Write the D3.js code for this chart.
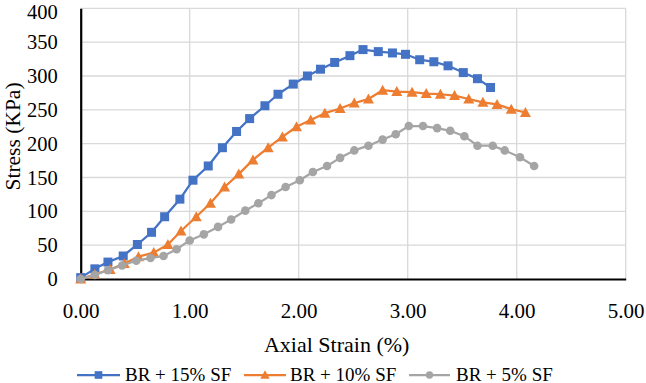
<!DOCTYPE html>
<html><head><meta charset="utf-8">
<script src="https://cdn.jsdelivr.net/npm/d3@7"></script>
<style>body{margin:0;background:#fff}svg{display:block}text{font-family:"Liberation Serif",serif;fill:#000}</style>
</head><body>
<svg id="c" width="646" height="383"></svg>
<script>
const xTicks = [0, 1, 2, 3, 4, 5];
const yTicks = [0, 50, 100, 150, 200, 250, 300, 350, 400];
const seriesNames = ["BR + 15% SF", "BR + 10% SF", "BR + 5% SF"];
const seriesColors = ["#4472C4", "#ED7D31", "#A5A5A5"];

const strain15 = [0, 0.13, 0.25, 0.39, 0.52, 0.65, 0.77, 0.91, 1.03, 1.17, 1.30, 1.43, 1.55, 1.69, 1.81, 1.95, 2.08, 2.20, 2.33, 2.47, 2.59, 2.73, 2.86, 2.98, 3.11, 3.24, 3.37, 3.51, 3.64, 3.76];
const stress15 = [2, 15, 25, 34, 51, 69, 92, 118, 146, 167, 194, 218, 237, 256, 273, 288, 300, 310, 320, 330, 339, 336, 334, 332, 324, 321, 315, 305, 296, 283];

const strain10 = [0, 0.13, 0.27, 0.40, 0.53, 0.67, 0.80, 0.92, 1.06, 1.19, 1.32, 1.45, 1.58, 1.72, 1.85, 1.98, 2.11, 2.24, 2.38, 2.51, 2.64, 2.77, 2.90, 3.04, 3.17, 3.30, 3.43, 3.56, 3.69, 3.82, 3.95, 4.08];
const stress10 = [0, 7, 14, 23, 33, 39, 51, 71, 92, 112, 136, 155, 176, 194, 210, 225, 235, 245, 252, 260, 266, 279, 277, 276, 274, 273, 271, 266, 261, 258, 251, 246];

const strain5 = [0, 0.13, 0.25, 0.38, 0.51, 0.64, 0.76, 0.88, 1.00, 1.13, 1.26, 1.38, 1.51, 1.63, 1.75, 1.88, 2.01, 2.13, 2.26, 2.38, 2.51, 2.64, 2.77, 2.89, 3.01, 3.14, 3.27, 3.39, 3.52, 3.64, 3.78, 3.89, 4.03, 4.16];
const stress5 = [0, 6, 13, 20, 27, 31, 34, 44, 57, 66, 77, 88, 101, 112, 124, 136, 146, 158, 167, 179, 190, 197, 206, 214, 226, 226, 223, 219, 211, 197, 197, 190, 180, 167];

const series = [
  {name: seriesNames[0], color: seriesColors[0], shape: "square", xs: strain15, ys: stress15},
  {name: seriesNames[1], color: seriesColors[1], shape: "triangle", xs: strain10, ys: stress10},
  {name: seriesNames[2], color: seriesColors[2], shape: "circle", xs: strain5, ys: stress5}
];

const svg = d3.select("#c");
const x = d3.scaleLinear().domain([0, 5]).range([80.7, 625.7]);
const y = d3.scaleLinear().domain([0, 400]).range([279, 8.3]);

// gridlines
const g = svg.append("g");
g.selectAll("line.h").data(yTicks.filter(d => d > 0)).enter().append("line")
  .attr("x1", x(0)).attr("x2", x(5)).attr("y1", d => y(d)).attr("y2", d => y(d))
  .attr("stroke", "#D9D9D9").attr("stroke-width", 1.3);
g.selectAll("line.v").data(xTicks.filter(d => d > 0)).enter().append("line")
  .attr("x1", d => x(d)).attr("x2", d => x(d)).attr("y1", y(0)).attr("y2", y(400))
  .attr("stroke", "#D9D9D9").attr("stroke-width", 1.3);

// axes
const xAxis = svg.append("g").attr("transform", `translate(0,${y(0)})`)
  .call(d3.axisBottom(x).tickValues(xTicks).tickFormat(d3.format(".2f")).tickSize(0).tickPadding(24));
xAxis.select(".domain").attr("stroke", "#000").attr("stroke-width", 2.2);
xAxis.selectAll("text").attr("font-size", 21).attr("font-family", "Liberation Serif").attr("fill", "#000");

const yAxis = svg.append("g").attr("transform", `translate(${x(0)},0)`)
  .call(d3.axisLeft(y).tickValues(yTicks).tickSize(0).tickPadding(23));
yAxis.select(".domain").attr("stroke", "#000").attr("stroke-width", 2.2);
yAxis.selectAll("text").attr("font-size", 20.5).attr("font-family", "Liberation Serif").attr("fill", "#000");
yAxis.selectAll(".tick").filter(d => d === 400).select("text").attr("dy", "0.5em");

// titles
svg.append("text").attr("x", 336.7).attr("y", 351.5).attr("text-anchor", "middle")
  .attr("font-size", 22).text("Axial Strain (%)");
svg.append("text").attr("transform", "translate(19.5,136.5) rotate(-90)").attr("text-anchor", "middle")
  .attr("font-size", 21.5).text("Stress (KPa)");

function marker(sel, shape, color) {
  if (shape === "square") {
    sel.append("rect").attr("x", -4.5).attr("y", -4.5).attr("width", 9).attr("height", 9).attr("fill", color);
  } else if (shape === "triangle") {
    sel.append("path").attr("d", "M0,-5.5L5.5,4.5L-5.5,4.5Z").attr("fill", color);
  } else {
    sel.append("circle").attr("r", 4.3).attr("fill", color);
  }
}

const line = d3.line().x(d => x(d[0])).y(d => y(d[1]));
series.forEach(s => {
  const pts = s.xs.map((v, i) => [v, s.ys[i]]);
  svg.append("path").datum(pts).attr("d", line).attr("fill", "none")
    .attr("stroke", s.color).attr("stroke-width", 2.25).attr("stroke-linejoin", "round");
  pts.forEach(p => {
    const m = svg.append("g").attr("transform", `translate(${x(p[0])},${y(p[1])})`);
    marker(m, s.shape, s.color);
  });
});

// legend
const legPos = [{lx1: 77, lx2: 120, tx: 125}, {lx1: 244, lx2: 286, tx: 290}, {lx1: 409, lx2: 450, tx: 456}];
series.forEach((s, i) => {
  const p = legPos[i];
  const ly = 375;
  svg.append("line").attr("x1", p.lx1).attr("x2", p.lx2).attr("y1", ly).attr("y2", ly)
    .attr("stroke", s.color).attr("stroke-width", 2.25);
  const m = svg.append("g").attr("transform", `translate(${(p.lx1 + p.lx2) / 2},${ly}) scale(0.85)`);
  marker(m, s.shape, s.color);
  svg.append("text").attr("x", p.tx).attr("y", 380.5).attr("font-size", 19).text(s.name);
});
</script>
</body></html>
